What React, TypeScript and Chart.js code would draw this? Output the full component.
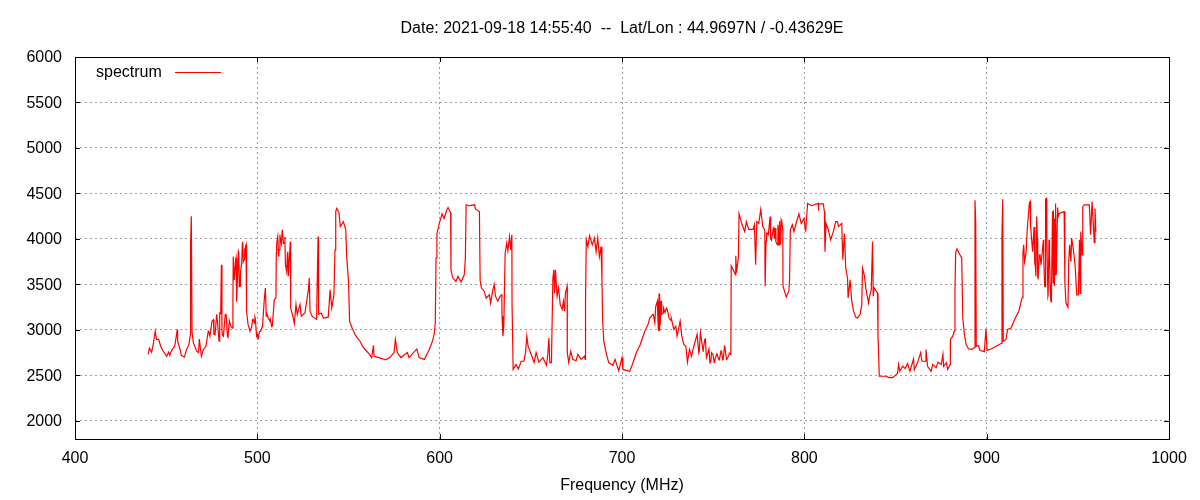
import { useEffect, useRef } from "react"
import { Chart, registerables, type Plugin } from "chart.js"

Chart.register(...registerables)

const titleText = "Date: 2021-09-18 14:55:40  --  Lat/Lon : 44.9697N / -0.43629E"
const seriesName = "spectrum"
const xTicks = [400, 500, 600, 700, 800, 900, 1000]
const yTicks = [2000, 2500, 3000, 3500, 4000, 4500, 5000, 5500, 6000]

// MHz / level
const freqs = [
  440.2, 440.8, 442, 443, 444, 444.7, 445.9, 447, 448.4, 450.3, 451.4, 452, 453, 454.7, 456.1, 456.3, 457.6, 458.3, 460, 461.2,
  462.5, 463.3, 463.4, 463.8, 464.2, 464.9, 466.7, 467.8, 468.2, 469.3, 470.4, 471.8, 473.1, 474, 475.1, 476.2, 477.7, 479, 479.5, 480.3,
  480.6, 481.4, 482.4, 483.6, 484.7, 486.5, 486.6, 487, 487.6, 488.3, 488.8, 489.8, 490.5, 492, 492.7, 493.8, 494.1, 494.9, 496, 497.4,
  498.7, 499.6, 500.4, 501.8, 502.9, 503.8, 504.4, 505.1, 506.9, 508.2, 509.3, 510.2, 510.6, 511.7, 512.4, 513.7, 514.8, 515.4, 516.5, 517,
  518.1, 518.3, 519.7, 520.3, 521.2, 521.9, 523.4, 524.1, 526.1, 528, 528.5, 528.9, 530, 532.5, 533.3, 533.6, 535.1, 536.2, 538.9, 539.9,
  540.8, 542, 542.6, 543, 543.5, 544.8, 545.5, 547.2, 548.5, 549, 550, 550.6, 552, 553.6, 556.3, 560, 562.7, 563.7, 564, 566.7,
  570.4, 572.6, 575, 575.7, 576.8, 578.7, 582.3, 583.2, 587.5, 588.7, 591.6, 594.3, 595.8, 597, 597.6, 598, 598.5, 599.8, 601.3, 602.4,
  603.8, 604.6, 606, 606.2, 607.1, 608.9, 610, 611.7, 613.5, 614.1, 614.5, 616.3, 619.2, 619.6, 621.8, 622.2, 622.9, 624.4, 625.5, 627.3,
  627.9, 629.2, 629.9, 630.6, 631.9, 633.2, 634.1, 634.2, 634.7, 635.2, 635.9, 636.8, 637.4, 638.3, 639, 639.6, 639.7, 640.3, 641.9, 643.2,
  644.7, 646.2, 647.1, 647.8, 648.5, 650.2, 651.8, 652.9, 654.4, 656.6, 658.6, 659.3, 659.9, 660.4, 661.3, 662.1, 662.6, 663, 663.5, 664.4,
  665.2, 666.1, 667.2, 667.9, 668.5, 669, 669.9, 670, 670.8, 671.9, 673, 674.8, 675.8, 677.6, 679.4, 679.8, 680, 680.4, 681.3, 682.2,
  683.7, 684.9, 685.8, 686.7, 687.6, 688.5, 689, 689.4, 690, 691.3, 692.7, 695, 696.2, 698.2, 700, 700.5, 704.2, 705.7, 707.9, 710,
  712.5, 714.3, 715.2, 717, 718.5, 719.4, 720.3, 720.5, 721, 721.6, 722.5, 724.4, 725.8, 727, 728.4, 729.5, 730.2, 731.9, 732.8, 733.9,
  735, 735.9, 737, 738.1, 739.4, 741.2, 742.1, 743, 744.5, 745.4, 746.3, 748.2, 749.1, 750.6, 752.2, 753.1, 754.6, 755.5, 756.2, 757.3,
  758.8, 759.7, 759.9, 761, 762.3, 762.4, 762.8, 763.8, 764.2, 765.9, 767.3, 768.2, 769.5, 771.9, 772.6, 773.3, 773.9, 775, 776.1, 777.2,
  778.3, 778.5, 779, 780.1, 781.4, 781.6, 782, 783.3, 784.4, 785.5, 786.2, 787.3, 788.2, 788.3, 790.1, 791.5, 791.9, 792.3, 793.4, 794.3,
  795.6, 797, 798.3, 799.8, 800.7, 801.8, 804, 807.7, 807.8, 807.9, 810.4, 811, 811.3, 811.9, 813.2, 814.4, 815.9, 817.2, 818.2, 818.7,
  820.5, 821.1, 822, 822.7, 823.7, 824, 825.1, 826, 827, 828.2, 829.1, 830.6, 831.5, 831.9, 833, 833.7, 835.2, 835.8, 836.7, 837.4,
  837.8, 838.3, 840.1, 840.4, 840.7, 841.1, 844.7, 846.6, 848.4, 851.1, 851.7, 852.4, 853.9, 855.3, 856.6, 857.9, 859.9, 860.3, 862.1, 863.8,
  864.5, 866.3, 866.7, 867.6, 869.5, 870.4, 872.3, 873.3, 875.1, 876, 876.4, 877.9, 878.6, 880, 880.1, 881.4, 882.2, 882.6, 883, 883.7,
  884.8, 886.3, 886.9, 887.8, 888.7, 890.1, 892, 893.2, 893.6, 894, 894.3, 895.6, 896.3, 898.7, 899.6, 900.2, 902.4, 905.1, 907.9, 908.4,
  908.8, 909.1, 910.6, 911.5, 913.4, 915.7, 917.6, 919.4, 919.9, 920.3, 920.8, 921.6, 922.3, 923.4, 924.1, 925.2, 926.3, 927, 927.4, 928,
  928.9, 930, 931.1, 931.8, 932.3, 933, 933.6, 934.5, 935.2, 936.1, 936.5, 937.2, 937.6, 937.9, 938.8, 939.8, 942.5, 942.9, 943.5, 944.6,
  945, 945.5, 946.2, 946.6, 947.7, 948.6, 949.4, 950.3, 950.9, 951.3, 951.6, 952.4, 952.7, 953.6, 956.3, 957, 957.8, 958.5, 959, 959.4,
  959.9,
]
const levels = [
  2730, 2800, 2755, 2850, 2985, 2895, 2895, 2820, 2765, 2710, 2755, 2720, 2775, 2820, 3005, 2875, 2785, 2720, 2700, 2785,
  2840, 2950, 3950, 4250, 2970, 2860, 2765, 2750, 2900, 2710, 2785, 2820, 2985, 2930, 3095, 2950, 3170, 2875, 3185, 3715,
  3000, 2930, 3170, 2930, 3095, 3020, 3280, 3805, 3550, 3790, 3315, 3845, 3480, 3970, 3770, 3935, 3205, 3060, 2985, 3115,
  3140, 2930, 2900, 2985, 3060, 3330, 3460, 3185, 3095, 3040, 3330, 3350, 3950, 3805, 4045, 4100, 3950, 3715, 3845, 3590,
  3970, 3240, 3130, 3070, 3280, 3170, 3280, 3150, 3185, 3440, 3570, 3205, 3150, 3115, 4025, 3170, 3185, 3130, 3140, 3440,
  3240, 3385, 3880, 4300, 4335, 4290, 4135, 4190, 4100, 3805, 3530, 3095, 3020, 2950, 2875, 2765, 2695, 2830, 2710, 2695,
  2670, 2695, 2750, 2895, 2750, 2695, 2750, 2695, 2790, 2695, 2675, 2785, 2860, 2950, 3075, 3790, 4060, 4170, 4275, 4225,
  4315, 4345, 4290, 3660, 3575, 3530, 3590, 3525, 3605, 3790, 4375, 4365, 4375, 4330, 4300, 3545, 3460, 3425, 3350, 3385,
  3295, 3440, 3500, 3370, 3315, 3370, 3385, 3150, 2930, 3060, 3840, 3955, 3870, 4025, 3880, 4045, 3280, 2565, 2620, 2570,
  2655, 2655, 2750, 2930, 2820, 2730, 2640, 2750, 2645, 2695, 2610, 2730, 2910, 2640, 2640, 3570, 3660, 3400, 3660, 3370,
  3460, 3280, 3225, 3315, 3205, 3405, 3480, 2750, 2640, 2765, 2675, 2660, 2730, 2675, 2710, 2675, 3300, 3990, 3915, 4035,
  3935, 4010, 3860, 4010, 3805, 3915, 3550, 3095, 2875, 2750, 2640, 2610, 2675, 2550, 2695, 2565, 2545, 2620, 2750, 2840,
  2985, 3060, 3130, 3170, 3260, 3315, 3400, 2985, 3075, 3260, 3185, 3240, 3130, 3130, 3005, 3040, 2930, 3095, 2930, 2840,
  2820, 2645, 2785, 2710, 2820, 2950, 2750, 2970, 2765, 2895, 2695, 2640, 2750, 2640, 2730, 2675, 2765, 2675, 2820, 2675,
  2730, 2730, 3705, 3660, 3605, 3815, 3630, 3790, 4275, 4155, 4080, 4190, 4105, 4105, 4155, 3715, 4190, 4170, 4325, 4135,
  4100, 3480, 3975, 4060, 4040, 4245, 3985, 4135, 3970, 4155, 3935, 4210, 4100, 3480, 3360, 3425, 3550, 4100, 4155, 4080,
  4180, 4275, 4170, 4225, 4080, 4390, 4365, 4390, 4310, 4385, 4385, 4300, 3860, 4170, 4100, 3990, 4080, 4190, 4190, 4135,
  4170, 3770, 4060, 3680, 3570, 3350, 3550, 3315, 3205, 3140, 3130, 3170, 3280, 3680, 3590, 3460, 3295, 3370, 3440, 3970,
  3370, 3460, 3405, 2930, 2765, 2490, 2490, 2475, 2475, 2520, 2620, 2545, 2600, 2575, 2630, 2545, 2680, 2560, 2640, 2750,
  2655, 2655, 2785, 2600, 2545, 2620, 2585, 2645, 2620, 2730, 2600, 2640, 2565, 2620, 2895, 2930, 2985, 3425, 3845, 3890,
  3845, 3790, 3130, 2950, 2840, 2790, 2785, 2805, 4425, 4190, 2820, 2825, 2775, 2760, 3010, 2775, 2790, 2820, 2850, 4060,
  4435, 2875, 2895, 3005, 3020, 3130, 3205, 3350, 3845, 3935, 3750, 3845, 4120, 4390, 4135, 3860, 3715, 3590, 4245, 3570,
  3825, 3715, 3990, 3480, 4435, 3970, 3370, 3830, 3315, 4300, 3515, 4225, 3605, 4390, 4260, 4280, 4300, 3515, 3295, 3250,
  3750, 3935, 3750, 4010, 3860, 3680, 3385, 3385, 3990, 3400, 4080, 3825, 4355, 4375, 4375, 4045, 4410, 4155, 3960, 4335,
  4080,
]

// second pass over the noisy bands, merged into the trace by frequency
const detailFreqs = [
  473.4, 475.9, 476.8, 478.2, 479.2, 479.9, 480.8, 482.9, 483.9, 484.5, 485.6, 486.8, 487.3, 488.1, 488.5, 489.6, 490.1, 490.7, 491.4, 491.8,
  492.3, 492.9, 493.2, 493.6, 496.9, 497.7, 498.4, 498.9, 500.1, 500.6, 501.1, 502.7, 504.9, 506, 507.1, 507.9, 510.4, 511.2, 511.9, 512.6,
  513.2, 514.3, 515.1, 515.6, 516.1, 516.7, 717.2, 718, 718.7, 719.6, 720, 720.7, 720.9, 721.4, 721.8, 722.7, 723.6, 724.8, 725.4, 726.9,
  741.6, 742.4, 743.2, 744.6, 745.7, 746.5, 747.7, 748.7, 749.8, 750.9, 752, 753.4, 754.3, 755.2, 756.4, 757.7, 758.9, 779.3, 780.2, 781.2,
  781.7, 783, 783.5, 784.1, 785.2, 785.7, 786.4, 787, 787.6, 923.8, 926, 926.5, 927.8, 928.2, 929.3, 929.8, 931.3, 932, 932.7, 933.7,
  934.2, 934.8, 935.5, 936.3, 936.6, 937.1, 937.7, 938.2, 938.9, 939.3, 555, 558, 561.5,
]
const detailLevels = [
  2980, 3110, 2945, 3075, 2900, 3180, 2945, 3165, 2920, 3065, 3035, 3805, 3550, 3770, 3310, 3860, 3475, 3620, 3730, 3950,
  3750, 3895, 3770, 3920, 3035, 3115, 3075, 3125, 2945, 2910, 2980, 3035, 3150, 3130, 3115, 3035, 3840, 4025, 3880, 4005,
  3950, 3950, 4020, 3715, 3640, 3860, 3170, 3080, 3270, 3155, 2990, 3400, 3080, 3320, 3170, 3245, 3190, 3225, 3170, 3100,
  2950, 2770, 2970, 2790, 2900, 2695, 2790, 2650, 2735, 2670, 2735, 2670, 2770, 2670, 2815, 2680, 2745, 4065, 4035, 4245,
  4000, 4120, 4000, 4120, 3935, 4120, 4195, 3935, 4195, 4410, 4130, 3805, 4010, 3565, 3825, 3715, 3790, 3475, 4445, 3380,
  3990, 3490, 3310, 3825, 4315, 3490, 4250, 3605, 4345, 4250, 2905, 2810, 2730,
]

const points = [
  ...freqs.map((f, i) => ({ x: f, y: levels[i] })),
  ...detailFreqs.map((f, i) => ({ x: f, y: detailLevels[i] })),
].sort((a, b) => a.x - b.x)

// gnuplot style frame: inward ticks on all four sides, plus the legend inside the plot
const framePlugin: Plugin = {
  id: "frame",
  afterDatasetsDraw(chart) {
    const { ctx, chartArea: a, scales } = chart
    ctx.save()
    ctx.strokeStyle = "#000"
    ctx.lineWidth = 1
    ctx.beginPath()
    xTicks.forEach((t) => {
      const px = Math.round(scales.x.getPixelForValue(t)) + 0.5
      ctx.moveTo(px, a.bottom)
      ctx.lineTo(px, a.bottom - 5)
      ctx.moveTo(px, a.top)
      ctx.lineTo(px, a.top + 5)
    })
    yTicks.forEach((t) => {
      const py = Math.round(scales.y.getPixelForValue(t)) + 0.5
      ctx.moveTo(a.left, py)
      ctx.lineTo(a.left + 5, py)
      ctx.moveTo(a.right, py)
      ctx.lineTo(a.right - 5, py)
    })
    ctx.stroke()
    ctx.strokeRect(a.left + 0.5, a.top + 0.5, a.right - a.left, a.bottom - a.top)

    ctx.fillStyle = "#000"
    ctx.font = '16px "Liberation Sans"'
    ctx.textBaseline = "middle"
    ctx.textAlign = "left"
    ctx.fillText(seriesName, 96, 72.5)
    ctx.strokeStyle = "#ff0000"
    ctx.beginPath()
    ctx.moveTo(175, 72.5)
    ctx.lineTo(221, 72.5)
    ctx.stroke()
    ctx.restore()
  },
}

export default function App() {
  const canvasRef = useRef<HTMLCanvasElement>(null)

  useEffect(() => {
    if (!canvasRef.current) return
    const font = { family: '"Liberation Sans"', size: 16 }
    const grid = {
      color: "#a0a0a0",
      lineWidth: 1,
      drawTicks: false,
    }
    const chart = new Chart(canvasRef.current, {
      type: "scatter",
      data: {
        datasets: [
          {
            label: seriesName,
            data: points,
            showLine: true,
            borderColor: "#ff0000",
            borderWidth: 1.2,
            pointRadius: 0,
            tension: 0,
          },
        ],
      },
      options: {
        animation: false,
        responsive: false,
        layout: { padding: { right: 31, left: 0, top: 0, bottom: 0 } },
        plugins: {
          legend: { display: false },
          tooltip: { enabled: false },
          title: {
            display: true,
            text: titleText,
            color: "#000",
            fullSize: false,
            font: { ...font, weight: "normal" },
            padding: { top: 19, bottom: 18.8 },
          },
        },
        scales: {
          x: {
            type: "linear",
            min: 400,
            max: 1000,
            afterFit: (s: any) => {
              s.height = 61
            },
            afterBuildTicks: (s: any) => {
              s.ticks = xTicks.map((value) => ({ value }))
            },
            grid,
            border: { display: false, dash: [2, 3] },
            ticks: { color: "#000", font, padding: 10, maxRotation: 0, callback: (v: any) => String(v) },
            title: { display: true, text: "Frequency (MHz)", color: "#000", font, padding: { top: 8, bottom: 5 } },
          },
          y: {
            type: "linear",
            min: 1800,
            max: 6000,
            afterFit: (s: any) => {
              s.width = 75
            },
            afterBuildTicks: (s: any) => {
              s.ticks = yTicks.map((value) => ({ value }))
            },
            grid,
            border: { display: false, dash: [2, 3] },
            ticks: { color: "#000", font, padding: 13, labelOffset: 1, callback: (v: any) => String(v) },
          },
        },
      },
      plugins: [framePlugin],
    })
    return () => chart.destroy()
  }, [])

  return (
    <div style={{ position: "absolute", left: 0, top: 0, width: 1200, height: 500, background: "#fff" }}>
      <canvas ref={canvasRef} width={1200} height={500} style={{ display: "block" }} />
    </div>
  )
}
